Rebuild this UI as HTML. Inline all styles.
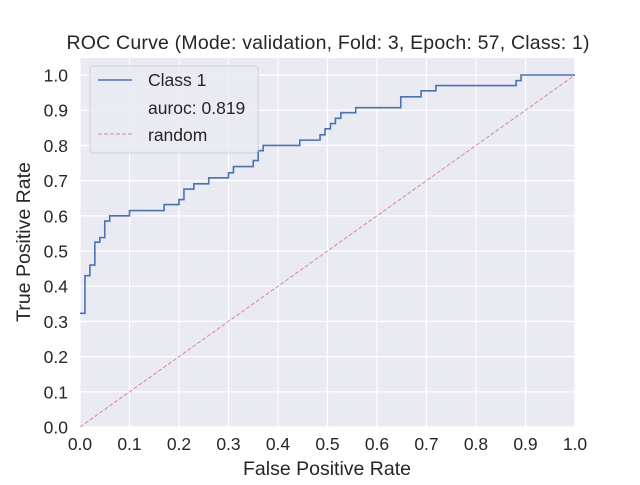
<!DOCTYPE html>
<html><head><meta charset="utf-8"><style>
body{margin:0;background:#fff;}
svg text{font-family:"Liberation Sans","DejaVu Sans",sans-serif;fill:#262626;}
</style></head><body>
<svg id="chart" width="640" height="480">
<rect x="0" y="0" width="640" height="480" fill="#fff"/>
<rect x="80" y="58" width="495" height="369" fill="#eaeaf2"/>
<g id="grid"></g>
<g id="ticks"></g>
<g id="series"></g>
<text x="328" y="49" font-size="19.5" text-anchor="middle" textLength="523">ROC Curve (Mode: validation, Fold: 3, Epoch: 57, Class: 1)</text>
<text x="327" y="475" font-size="19.5" text-anchor="middle">False Positive Rate</text>
<text x="30" y="242" font-size="19.5" text-anchor="middle" transform="rotate(-90 30 242)">True Positive Rate</text>
<g>
<rect x="90" y="66" width="168" height="87" rx="3" fill="#eaeaf2" fill-opacity="0.8" stroke="#d0d0d8"/>
<line x1="98" y1="80" x2="132" y2="80" stroke="#4c72b0" stroke-width="1.5"/>
<text x="148" y="86" font-size="17.5">Class 1</text>
<text x="148" y="114" font-size="17.5">auroc: 0.819</text>
<line x1="98" y1="134" x2="132" y2="134" stroke-width="1" stroke-dasharray="4,2" style="stroke:#d98a8e"/>
<text x="148" y="141" font-size="17.5">random</text>
</g>
</svg>
<script>
const fpr=[0,0.01,0.01,0.02,0.02,0.03,0.03,0.04,0.04,0.05,0.05,0.06,0.06,0.10,0.10,0.17,0.17,0.20,0.20,0.21,0.21,0.23,0.23,0.26,0.26,0.30,0.30,0.31,0.31,0.35,0.35,0.36,0.36,0.37,0.37,0.444,0.444,0.485,0.485,0.495,0.495,0.506,0.506,0.516,0.516,0.527,0.527,0.557,0.557,0.648,0.648,0.689,0.689,0.719,0.719,0.881,0.881,0.891,0.891,1.0];
const tpr=[0.323,0.323,0.43,0.43,0.46,0.46,0.525,0.525,0.538,0.538,0.585,0.585,0.60,0.60,0.615,0.615,0.632,0.632,0.646,0.646,0.676,0.676,0.691,0.691,0.708,0.708,0.722,0.722,0.74,0.74,0.757,0.757,0.785,0.785,0.80,0.80,0.815,0.815,0.83,0.83,0.847,0.847,0.862,0.862,0.877,0.877,0.893,0.893,0.907,0.907,0.938,0.938,0.955,0.955,0.97,0.97,0.984,0.984,1.0,1.0];
const tickVals=[0,0.1,0.2,0.3,0.4,0.5,0.6,0.7,0.8,0.9,1.0];
const tickLabels=["0.0","0.1","0.2","0.3","0.4","0.5","0.6","0.7","0.8","0.9","1.0"];
const X0=80,X1=575,Y0=427,Y1=75;
const sx=v=>X0+(X1-X0)*v, sy=v=>Y0-(Y0-Y1)*v;
const NS="http://www.w3.org/2000/svg";
const grid=document.getElementById('grid'),ticks=document.getElementById('ticks'),series=document.getElementById('series');
tickVals.forEach((v,i)=>{
 let l=document.createElementNS(NS,'line');
 l.setAttribute('x1',sx(v));l.setAttribute('x2',sx(v));l.setAttribute('y1',58);l.setAttribute('y2',427);
 l.setAttribute('stroke','#fff');l.setAttribute('stroke-width','1.2');
 
 
 grid.appendChild(l);
 let h=document.createElementNS(NS,'line');
 h.setAttribute('x1',80);h.setAttribute('x2',575);h.setAttribute('y1',sy(v));h.setAttribute('y2',sy(v));
 h.setAttribute('stroke','#fff');h.setAttribute('stroke-width','1.2');
 
 
 grid.appendChild(h);
 let tx=document.createElementNS(NS,'text');
 tx.setAttribute('x',sx(v));tx.setAttribute('y',450);tx.setAttribute('font-size','17.5');tx.setAttribute('text-anchor','middle');
 tx.textContent=tickLabels[i];
 
 
 ticks.appendChild(tx);
 let ty=document.createElementNS(NS,'text');
 ty.setAttribute('x',68);ty.setAttribute('y',sy(v)+6.5);ty.setAttribute('font-size','17.5');ty.setAttribute('text-anchor','end');
 ty.textContent=tickLabels[i];
 
 
 ticks.appendChild(ty);
});
let r=document.createElementNS(NS,'line');
r.setAttribute('x1',sx(0));r.setAttribute('y1',sy(0));r.setAttribute('x2',sx(1));r.setAttribute('y2',sy(1));
r.setAttribute('stroke','#d98a8e');r.setAttribute('stroke-width','1');r.setAttribute('stroke-dasharray','4,2');


series.appendChild(r);
let p=document.createElementNS(NS,'polyline');
p.setAttribute('points',fpr.map((f,i)=>sx(f)+','+sy(tpr[i])).join(' '));
p.setAttribute('fill','none');p.setAttribute('stroke','#4c72b0');p.setAttribute('stroke-width','1.6');


series.appendChild(p);
</script>
</body></html>
